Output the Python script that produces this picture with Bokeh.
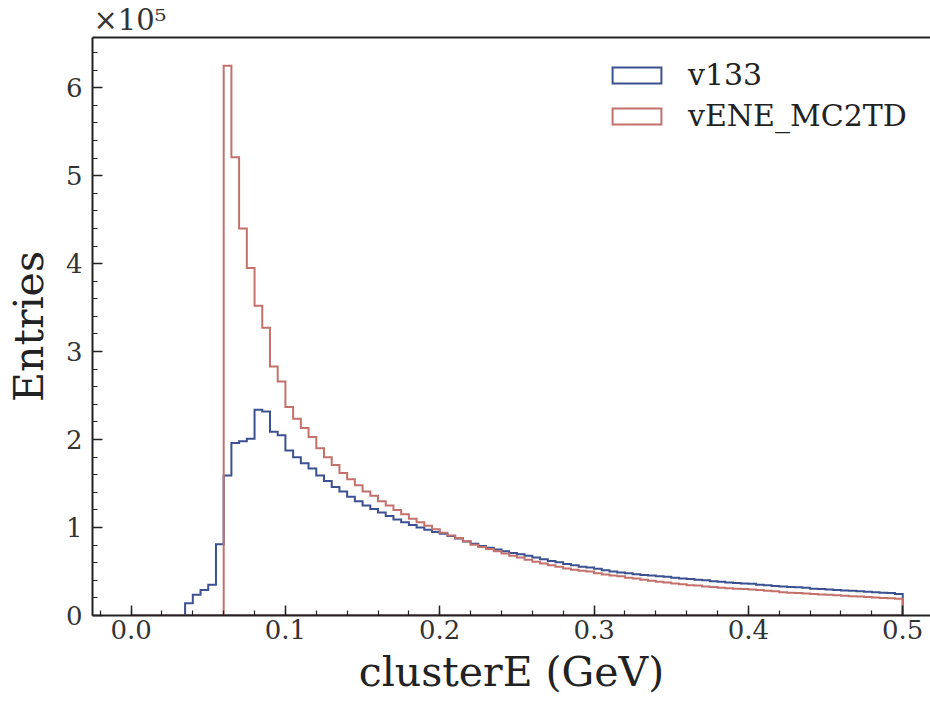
import numpy as np
from bokeh.plotting import figure
from bokeh.models import (LinearAxis, FixedTicker, SingleIntervalTicker,
                          PrintfTickFormatter, Range1d, Legend, LegendItem)
from bokeh.embed import file_html
from bokeh.resources import INLINE

# ---------------- data (entries in units of 1e5) ----------------
bin_start = 0.0
bin_width = 0.005

v133_x1e5 = [
    0, 0, 0, 0, 0, 0, 0, 0.14, 0.235, 0.29,
    0.35, 0.81, 1.59, 1.96, 1.98, 2.01, 2.34, 2.32, 2.09, 2.05,
    1.875, 1.80, 1.73, 1.67, 1.59, 1.53, 1.46, 1.41, 1.35, 1.30,
    1.25, 1.21, 1.17, 1.13, 1.09, 1.06, 1.03, 1.00, 0.975, 0.95,
    0.93, 0.905, 0.875, 0.84, 0.815, 0.79, 0.77, 0.75, 0.73, 0.71,
    0.695, 0.68, 0.66, 0.64, 0.62, 0.605, 0.585, 0.57, 0.555, 0.545,
    0.53, 0.515, 0.50, 0.49, 0.48, 0.47, 0.46, 0.455, 0.445, 0.44,
    0.43, 0.42, 0.415, 0.405, 0.40, 0.39, 0.385, 0.375, 0.37, 0.365,
    0.36, 0.35, 0.345, 0.335, 0.33, 0.325, 0.32, 0.315, 0.305, 0.30,
    0.295, 0.29, 0.285, 0.28, 0.275, 0.27, 0.265, 0.26, 0.255, 0.245,
]

vENE_MC2TD_x1e5 = [
    0, 0, 0, 0, 0, 0, 0, 0, 0, 0,
    0, 0, 6.25, 5.21, 4.40, 3.95, 3.52, 3.27, 2.83, 2.66,
    2.37, 2.235, 2.13, 2.03, 1.90, 1.80, 1.71, 1.62, 1.55, 1.48,
    1.41, 1.36, 1.30, 1.25, 1.20, 1.15, 1.10, 1.06, 1.02, 0.98,
    0.94, 0.91, 0.88, 0.845, 0.805, 0.78, 0.755, 0.73, 0.705, 0.68,
    0.66, 0.635, 0.61, 0.59, 0.57, 0.555, 0.535, 0.52, 0.51, 0.50,
    0.48, 0.465, 0.455, 0.445, 0.43, 0.42, 0.405, 0.395, 0.385, 0.375,
    0.365, 0.355, 0.345, 0.34, 0.33, 0.325, 0.315, 0.31, 0.305, 0.30,
    0.295, 0.29, 0.28, 0.275, 0.265, 0.26, 0.255, 0.25, 0.245, 0.24,
    0.235, 0.23, 0.225, 0.22, 0.215, 0.21, 0.205, 0.20, 0.195, 0.19,
]

series_labels = ["v133", "vENE_MC2TD"]
series_colors = ["#3b5191", "#c4716c"]

FONT = "DejaVu Serif"


def step_outline(vals):
    vals = np.asarray(vals, dtype=float)
    edges = bin_start + bin_width * np.arange(len(vals) + 1)
    xs = np.repeat(edges, 2)
    ys = np.concatenate([[0.0], np.repeat(vals, 2), [0.0]])
    return xs, ys


p = figure(width=930, height=701, output_backend="svg", toolbar_location=None,
           x_range=Range1d(-0.025, 0.518), y_range=Range1d(0, 6.57),
           min_border_left=92, min_border_right=0, min_border_top=37,
           min_border_bottom=86, outline_line_color=None,
           background_fill_color="white", border_fill_color="white")
p.xgrid.visible = False
p.ygrid.visible = False

renderers = []
for vals, col in zip([v133_x1e5, vENE_MC2TD_x1e5], series_colors):
    xs, ys = step_outline(vals)
    r = p.patch(xs, ys, fill_color=None, line_color=col, line_width=2,
                line_join="miter")
    renderers.append(r)

# axes styling
for ax in (p.xaxis[0], p.yaxis[0]):
    ax.axis_line_width = 2
    ax.axis_line_color = "#222222"
    ax.major_tick_in = 10
    ax.major_tick_out = 0
    ax.minor_tick_in = 5
    ax.minor_tick_out = 0
    ax.major_tick_line_width = 1.5
    ax.minor_tick_line_width = 1.2
    ax.major_tick_line_color = "#222222"
    ax.minor_tick_line_color = "#222222"
    ax.major_label_text_font = FONT
    ax.major_label_text_font_size = "26px"
    ax.major_label_text_color = "#333333"
    ax.axis_label_text_font = FONT
    ax.axis_label_text_font_size = "41px"
    ax.axis_label_text_font_style = "normal"
    ax.axis_label_text_color = "#222222"

p.xaxis[0].ticker = SingleIntervalTicker(interval=0.1, num_minor_ticks=5)
p.xaxis[0].formatter = PrintfTickFormatter(format="%.1f")
p.xaxis[0].axis_label = "clusterE (GeV)"
p.xaxis[0].major_label_standoff = 4
p.xaxis[0].axis_label_standoff = 6

p.yaxis[0].ticker = SingleIntervalTicker(interval=1, num_minor_ticks=5)
p.yaxis[0].formatter = PrintfTickFormatter(format="%d")
p.yaxis[0].axis_label = "Entries"
p.yaxis[0].major_label_standoff = 10
p.yaxis[0].axis_label_standoff = 10

top_axis = LinearAxis(ticker=FixedTicker(ticks=[]), axis_line_width=2,
                      axis_line_color="#222222", major_tick_in=0,
                      major_tick_out=0, minor_tick_in=0, minor_tick_out=0)
p.add_layout(top_axis, "above")

p.title.text = "×10⁵"
p.title.align = "left"
p.title.offset = 1
p.title.standoff = 1
p.title.text_font = FONT
p.title.text_font_size = "29px"
p.title.text_font_style = "normal"
p.title.text_color = "#333333"

legend = Legend(items=[LegendItem(label=lab, renderers=[r])
                       for lab, r in zip(series_labels, renderers)],
                location=(514, 482), glyph_width=61, glyph_height=20,
                label_text_font=FONT, label_text_font_size="30px",
                label_text_color="#222222", padding=0, spacing=6,
                label_standoff=21, border_line_color=None,
                background_fill_alpha=0, margin=0)
p.add_layout(legend)

open("out.html", "w").write(file_html(p, INLINE))
